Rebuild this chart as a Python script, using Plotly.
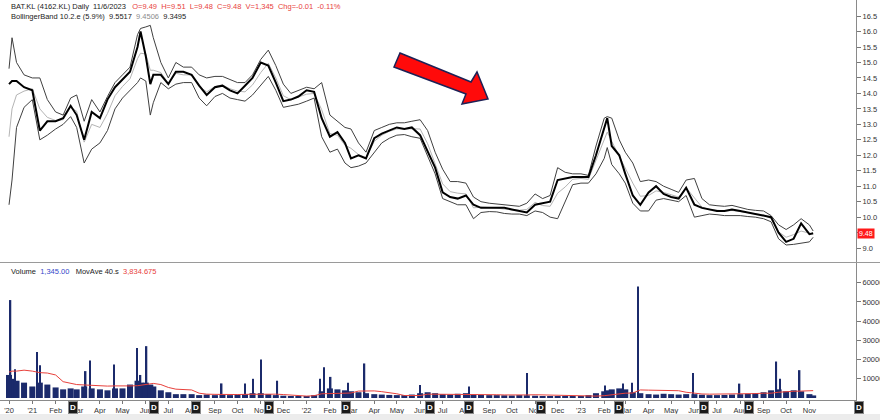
import plotly.graph_objects as go

# ---------------- data ----------------
dates = [
    "2020-12-01", "2020-12-05", "2020-12-11", "2020-12-21",
    "2021-01-01", "2021-01-11", "2021-01-21",
    "2021-02-01", "2021-02-11", "2021-02-21",
    "2021-03-01", "2021-03-11", "2021-03-21",
    "2021-04-01", "2021-04-11", "2021-04-21",
    "2021-05-01", "2021-05-11", "2021-05-21", "2021-05-25",
    "2021-06-01", "2021-06-07", "2021-06-11", "2021-06-21",
    "2021-07-01", "2021-07-11", "2021-07-21",
    "2021-08-01", "2021-08-11", "2021-08-21",
    "2021-09-01", "2021-09-11", "2021-09-21",
    "2021-10-01", "2021-10-11", "2021-10-21",
    "2021-11-01", "2021-11-11", "2021-11-21",
    "2021-12-01", "2021-12-11", "2021-12-21",
    "2022-01-01", "2022-01-11", "2022-01-21",
    "2022-02-01", "2022-02-11", "2022-02-21",
    "2022-03-01", "2022-03-11", "2022-03-21",
    "2022-04-01", "2022-04-11", "2022-04-21",
    "2022-05-01", "2022-05-11", "2022-05-21",
    "2022-06-01", "2022-06-11", "2022-06-21",
    "2022-07-01", "2022-07-11", "2022-07-21",
    "2022-08-01", "2022-08-11", "2022-08-21",
    "2022-09-01", "2022-09-11", "2022-09-21",
    "2022-10-01", "2022-10-11", "2022-10-21",
    "2022-11-01", "2022-11-11", "2022-11-21",
    "2022-12-01", "2022-12-11", "2022-12-21",
    "2023-01-01", "2023-01-11", "2023-01-21",
    "2023-02-01", "2023-02-05", "2023-02-11", "2023-02-21",
    "2023-03-01", "2023-03-11", "2023-03-21",
    "2023-04-01", "2023-04-11", "2023-04-21",
    "2023-05-01", "2023-05-11", "2023-05-21",
    "2023-06-01", "2023-06-11", "2023-06-21",
    "2023-07-01", "2023-07-11", "2023-07-21",
    "2023-08-01", "2023-08-11", "2023-08-21",
    "2023-09-01", "2023-09-11", "2023-09-21",
    "2023-10-01", "2023-10-11", "2023-10-21",
    "2023-11-01", "2023-11-06",
]

close = [
    14.3, 14.4, 14.4, 14.2,
    14.1, 12.8, 13.1,
    13.1, 13.2, 13.6,
    13.3, 12.5, 13.4,
    13.2, 13.8, 14.2,
    14.45, 14.7, 15.5, 16.0,
    15.2, 14.3, 14.6, 14.6,
    14.3, 14.7, 14.7,
    14.6, 14.25, 13.95,
    14.2, 14.25, 14.1,
    14.0, 14.25, 14.5,
    15.0, 14.9, 14.35,
    13.75, 13.8, 13.9,
    14.1, 14.05, 13.2,
    12.6, 12.75, 12.4,
    11.9, 12.0, 11.9,
    12.55, 12.7, 12.8,
    12.9, 12.85, 12.9,
    12.65, 12.1, 11.6,
    10.8, 10.65, 10.6,
    10.7, 10.4, 10.3,
    10.3, 10.3, 10.3,
    10.25, 10.2, 10.15,
    10.4, 10.45, 10.5,
    11.2, 11.25, 11.3,
    11.3, 11.3, 12.0,
    12.85, 13.2, 12.3, 12.0,
    11.4, 10.7, 10.4,
    10.8, 11.0, 10.75,
    10.65, 10.6, 10.95,
    10.4, 10.3, 10.25,
    10.2, 10.2, 10.25,
    10.2, 10.15, 10.12,
    10.05, 10.0, 9.5,
    9.2, 9.3, 9.8,
    9.45, 9.48,
]

upper = [
    14.8, 15.8, 15.0, 14.6,
    14.5, 14.5, 13.8,
    13.4, 13.3, 13.85,
    13.95, 13.1, 13.8,
    13.4, 13.9, 14.35,
    14.6, 14.85, 15.9, 16.1,
    16.15, 16.2, 15.8, 15.0,
    14.5, 15.0, 14.85,
    14.85, 14.6, 14.5,
    14.55, 14.55, 14.45,
    14.35, 14.35, 14.6,
    15.1, 15.4, 14.9,
    14.3, 14.0, 14.1,
    14.2, 14.15, 14.35,
    13.3, 13.1, 12.9,
    12.85, 12.4, 12.1,
    12.8, 12.9, 13.0,
    13.05, 13.05, 13.1,
    13.15, 12.8, 12.1,
    11.55, 11.15, 11.15,
    11.1, 10.65, 10.5,
    10.45, 10.42, 10.4,
    10.37, 10.35, 10.45,
    10.75, 10.6, 10.7,
    11.6, 11.45, 11.4,
    11.4, 11.35, 12.3,
    13.2, 13.25, 13.2, 12.5,
    12.1, 11.75, 11.15,
    11.2, 11.15, 11.0,
    10.9, 10.8, 11.2,
    11.25, 10.6, 10.4,
    10.37, 10.35, 10.38,
    10.3, 10.25, 10.22,
    10.2, 10.05, 9.75,
    9.6, 9.75, 9.95,
    9.75, 9.5517,
]

lower = [
    10.4, 11.2, 12.9, 13.55,
    13.8, 12.5, 12.65,
    12.85, 13.0, 13.25,
    12.9, 11.75, 12.2,
    12.4, 12.8, 13.5,
    13.85, 14.1, 14.35, 14.5,
    14.4, 13.3, 13.7, 14.35,
    14.15, 14.3, 14.35,
    14.35, 13.85, 13.6,
    13.9, 14.0, 13.85,
    13.8, 13.75, 13.95,
    14.25, 14.55, 14.1,
    13.55, 13.6, 13.65,
    13.75, 13.85, 12.6,
    12.1, 12.2, 11.75,
    11.6, 11.65, 11.75,
    12.1, 12.4, 12.55,
    12.65, 12.67, 12.6,
    12.55, 11.95, 11.4,
    10.6, 10.5, 10.4,
    10.4, 9.95, 10.15,
    10.18, 10.17, 10.12,
    10.1, 10.1, 10.05,
    10.2, 10.15, 10.0,
    9.95, 10.5, 11.05,
    11.1, 11.1, 11.4,
    11.9, 12.25, 11.7, 11.4,
    11.1, 10.45, 10.2,
    10.2, 10.55, 10.6,
    10.55, 10.5, 10.7,
    10.0, 10.05, 10.1,
    10.08, 10.05, 10.05,
    10.05, 10.02, 10.0,
    9.95, 9.85, 9.3,
    9.1, 9.12, 9.15,
    9.2, 9.3495,
]

vol_base = [
    12000, 10000, 9000, 8000,
    6000, 8000, 7000,
    5500, 4500, 5000,
    4500, 6000, 5000,
    4500, 4000, 5000,
    5000, 7000, 9000, 8000,
    8000, 7000, 6000, 4000,
    3000, 2000, 2000,
    2000, 1500, 1800,
    1500, 1700, 1500,
    1800, 2000, 2500,
    2500, 2000, 1500,
    1200, 1000, 1000,
    800, 1500, 3500,
    5000, 4500, 4000,
    3500, 3000, 2500,
    2000, 1800, 1600,
    1500, 1500, 1800,
    2500, 3000, 2500,
    2000, 1800, 2200,
    2500, 1800, 1600,
    1500, 1500, 1400,
    1300, 1500, 1400,
    1200, 1000, 900,
    800, 900, 1000,
    1000, 1500, 2500,
    3500, 4000, 4500, 5000,
    4500, 3000, 2500,
    2000, 1800, 2200,
    2000, 1800, 2000,
    2000, 1700, 1500,
    1500, 1600, 1800,
    2000, 2200, 2500,
    3000, 4000, 4500,
    3500, 4000, 3500,
    2000, 1345,
]

vol_ma = [
    13500, 14000, 14000, 14500,
    14000, 13200, 13000,
    12000, 8500, 7500,
    7000, 6800, 6500,
    6300, 6200, 6300,
    6200, 6300, 6400, 6600,
    7200, 7500, 7600, 7000,
    5500, 4600, 4400,
    4200, 2500, 2000,
    1900, 1800, 1800,
    1800, 1900, 2000,
    2100, 2100, 2000,
    1800, 1500, 1200,
    1000, 1200, 2200,
    2300, 2400, 2500,
    2600, 3600, 3700,
    3700, 3300, 2800,
    2200, 1300, 1200,
    1300, 2000, 2000,
    2000, 1900, 1900,
    2000, 2000, 1900,
    1800, 1700, 1600,
    1500, 1500, 1600,
    1700, 1600, 1500,
    1500, 1300, 1100,
    900, 900, 1000,
    1200, 1400, 1800, 2300,
    2500, 2600, 4200,
    4100, 4000, 4000,
    3900, 3800, 3000,
    2400, 2100, 2000,
    2000, 2000, 2000,
    2000, 2100, 2300,
    2500, 2500, 3000,
    3400, 3500, 3600,
    3800, 3834.675,
]

spike_dates = [
    "2020-12-03", "2020-12-09", "2021-01-07", "2021-01-11", "2021-03-13",
    "2021-03-19", "2021-04-20", "2021-05-20", "2021-05-25", "2021-06-02",
    "2021-09-10", "2021-10-11", "2021-10-22", "2021-11-01", "2021-11-23",
    "2022-01-19", "2022-01-24", "2022-02-02", "2022-02-25", "2022-03-19",
    "2022-06-01", "2022-08-05", "2022-10-21", "2023-02-02", "2023-02-26",
    "2023-03-10", "2023-03-18", "2023-05-30", "2023-07-31", "2023-09-18",
    "2023-09-23", "2023-10-19",
]
spike_vol = [
    51000, 15000, 24000, 17000, 14000,
    19500, 17500, 26000, 12000, 27000,
    7600, 7600, 10000, 20000, 9000,
    10000, 16000, 11000, 8000, 18000,
    6800, 6000, 13000, 6500, 7600,
    8000, 58000, 13000, 7500, 19000,
    10000, 14500,
]

dividend_dates = [
    "2021-02-24", "2021-06-12", "2021-08-07", "2021-11-12", "2022-02-22",
    "2022-06-14", "2022-08-05", "2022-11-09", "2023-02-21", "2023-06-14",
    "2023-08-12",
]

month_ticks = [
    "2020-12-01",
    "2021-01-01", "2021-02-01", "2021-03-01", "2021-04-01", "2021-05-01", "2021-06-01",
    "2021-07-01", "2021-08-01", "2021-09-01", "2021-10-01", "2021-11-01", "2021-12-01",
    "2022-01-01", "2022-02-01", "2022-03-01", "2022-04-01", "2022-05-01", "2022-06-01",
    "2022-07-01", "2022-08-01", "2022-09-01", "2022-10-01", "2022-11-01", "2022-12-01",
    "2023-01-01", "2023-02-01", "2023-03-01", "2023-04-01", "2023-05-01", "2023-06-01",
    "2023-07-01", "2023-08-01", "2023-09-01", "2023-10-01", "2023-11-01",
]
month_labels = [
    "'20",
    "'21", "Feb", "Mar", "Apr", "May", "Jun", "Jul", "Aug", "Sep", "Oct", "Nov", "Dec",
    "'22", "Feb", "Mar", "Apr", "May", "Jun", "Jul", "Aug", "Sep", "Oct", "Nov", "Dec",
    "'23", "Feb", "Mar", "Apr", "May", "Jun", "Jul", "Aug", "Sep", "Oct", "Nov",
]

price_ticks = [9.0, 9.5, 10.0, 10.5, 11.0, 11.5, 12.0, 12.5, 13.0, 13.5,
               14.0, 14.5, 15.0, 15.5, 16.0, 16.5]
volume_ticks = [10000, 20000, 30000, 40000, 50000, 60000]
last_close = 9.48

# ---------------- styling ----------------
W, H = 880, 420
ML, MR, MT, MB = 0, 24, 0, 20
PW, PH = W - ML - MR, H - MT - MB
NAVY = "#1b2a6b"
RED = "#e8413c"
FONT = "Liberation Sans"
DAY_MS = 86400000


def px(x, y):
    """pixel position in the plot area -> paper coords (decorations only)"""
    return x / PW, 1 - y / PH


middle = [(u + l) / 2 for u, l in zip(upper, lower)]

fig = go.Figure()
fig.add_trace(go.Bar(x=dates, y=vol_base, yaxis="y2", marker_color=NAVY,
                     marker_line_width=0, width=8 * DAY_MS))
fig.add_trace(go.Bar(x=spike_dates, y=spike_vol, yaxis="y2", marker_color=NAVY,
                     marker_line_width=0, width=2 * DAY_MS))
fig.add_trace(go.Scatter(x=dates, y=vol_ma, yaxis="y2", mode="lines",
                         line=dict(color=RED, width=1)))
fig.add_trace(go.Scatter(x=dates, y=middle, mode="lines",
                         line=dict(color="#b4b4b4", width=1)))
fig.add_trace(go.Scatter(x=dates, y=upper, mode="lines",
                         line=dict(color="#404040", width=1)))
fig.add_trace(go.Scatter(x=dates, y=lower, mode="lines",
                         line=dict(color="#404040", width=1)))
fig.add_trace(go.Scatter(x=dates, y=close, mode="lines",
                         line=dict(color="#000000", width=2)))

tickfont = dict(family=FONT, size=7.5, color="#333333")
vol_top = 263
price_dom0 = 1 - 262 / PH
vol_dom1 = 1 - vol_top / PH

fig.update_layout(
    width=W, height=H,
    margin=dict(l=ML, r=MR, t=MT, b=MB, autoexpand=False),
    paper_bgcolor="white", plot_bgcolor="white",
    showlegend=False, barmode="overlay",
    xaxis=dict(type="date", range=["2020-11-19", "2024-01-02"], anchor="y2",
               tickvals=month_ticks, ticktext=month_labels, ticks="outside",
               ticklen=3, tickcolor="#777777", showline=True, linecolor="#8a8a8a",
               showgrid=False, zeroline=False, tickfont=tickfont, automargin=False),
    yaxis=dict(domain=[price_dom0, 1], range=[8.55, 17.02], side="right", anchor="x",
               showline=True, linecolor="#8a8a8a", ticks="outside", ticklen=4,
               tickcolor="#777777", tickvals=price_ticks, tickformat=".1f",
               showgrid=False, zeroline=False, tickfont=tickfont, automargin=False),
    yaxis2=dict(domain=[0, vol_dom1], range=[-1040, 70300], side="right", anchor="x",
                showline=True, linecolor="#8a8a8a", ticks="outside", ticklen=4,
                tickcolor="#777777", tickvals=volume_ticks, tickformat="d",
                showgrid=False, zeroline=False, tickfont=tickfont, automargin=False),
)

# separator between panels, bottom grey strip
sx0, sy = px(0, 262.5)
fig.add_shape(type="line", xref="paper", yref="paper", x0=0, x1=W / PW, y0=sy, y1=sy,
              line=dict(color="#9a9a9a", width=1))
_, gy0 = px(0, 414)
_, gy1 = px(0, 420)
fig.add_shape(type="rect", xref="paper", yref="paper", x0=0, x1=W / PW, y0=gy1, y1=gy0,
              fillcolor="#ececec", line_width=0)

# red block arrow (decoration)
arrow_pts = [(400, 53), (471, 82), (477, 72), (488, 99), (462, 104), (466, 94), (394, 67)]
path = ""
for i, (ax, ay) in enumerate(arrow_pts):
    qx, qy = px(ax, ay)
    path += ("M" if i == 0 else "L") + f"{qx:.5f},{qy:.5f} "
path += "Z"
fig.add_shape(type="path", xref="paper", yref="paper", path=path,
              fillcolor="#ff0a0a", line=dict(color="#1d2156", width=1.5))

# header texts
hx, hy1 = px(9, 6)
_, hy2 = px(9, 16.5)
_, hy3 = px(9, 271)
nb = "&nbsp;"
line1 = ("BAT.KL (4162.KL) Daily" + nb * 2 + "11/6/2023" + nb * 3 +
         f"<span style='color:{RED}'>O=9.49{nb*2}H=9.51{nb*2}L=9.48{nb*2}C=9.48{nb*2}"
         f"V=1,345{nb*2}Chg=-0.01{nb*2}-0.11%</span>")
line2 = ("BollingerBand 10.2.e (5.9%)" + nb * 2 + "9.5517" + nb * 2 +
         "<span style='color:#8c8c8c'>9.4506</span>" + nb * 2 + "9.3495")
line3 = ("Volume" + nb * 2 + "<span style='color:#3347c9'>1,345.00</span>" + nb * 3 +
         "MovAve 40.s" + nb * 2 + f"<span style='color:{RED}'>3,834.675</span>")
for txt, yy in [(line1, hy1), (line2, hy2), (line3, hy3)]:
    fig.add_annotation(xref="paper", yref="paper", x=hx, y=yy, text=txt,
                       showarrow=False, xanchor="left", yanchor="middle",
                       font=dict(family=FONT, size=7.5, color="#222222"))

# last price tag on the axis
fig.add_annotation(xref="paper", yref="y", x=1, y=last_close, text=f"{last_close:.2f}",
                   showarrow=False, xanchor="left", yanchor="middle", xshift=1,
                   bgcolor="#ff1a1a", borderpad=1,
                   font=dict(family=FONT, size=7, color="white"))

# dividend "D" markers (the last one sits on the axis corner)
_, dy = px(0, 407)
d_style = dict(showarrow=False, xanchor="center", yanchor="middle",
               bgcolor="#1a1a1a", bordercolor="#8a8a8a", borderwidth=1,
               borderpad=1, font=dict(family=FONT, size=8, color="white"))
for d in dividend_dates:
    fig.add_annotation(xref="x", yref="paper", x=d, y=dy, text="<b>D</b>", **d_style)
cx, _ = px(859, 0)
fig.add_annotation(xref="paper", yref="paper", x=cx, y=dy, text="<b>D</b>", **d_style)

fig.write_html("out.html", config={"displayModeBar": False},
               post_script="document.body.style.margin='0';document.body.style.overflow='hidden';")
